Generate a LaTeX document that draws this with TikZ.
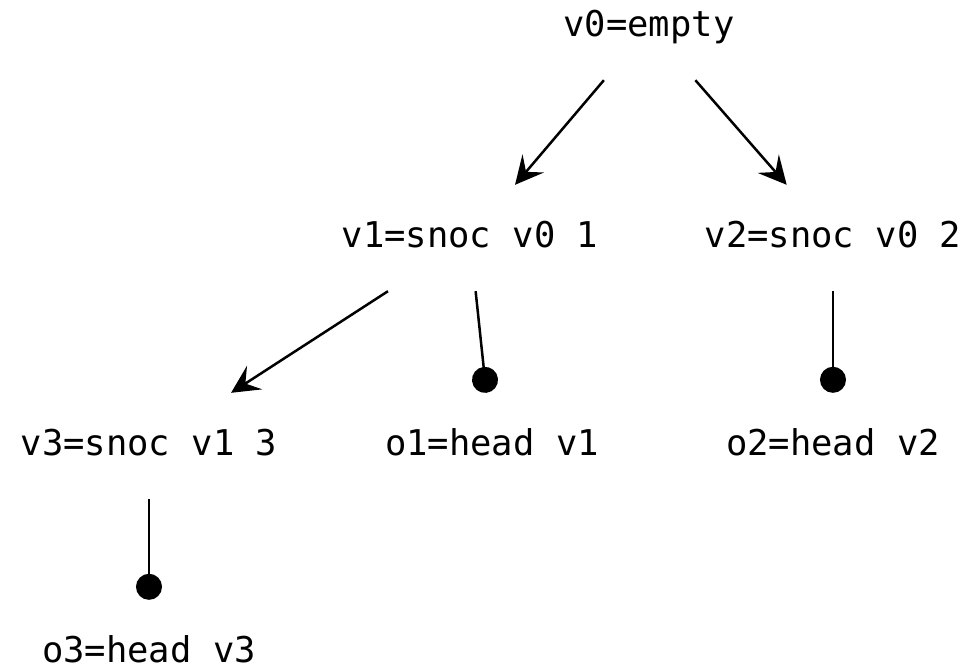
\documentclass[tikz,border=0pt]{standalone}
\usepackage{fontspec}
\setmonofont{DejaVu Sans Mono}
\usetikzlibrary{arrows.meta}
\begin{document}
\begin{tikzpicture}[x=1pt,y=-1pt,
  lbl/.style={font=\ttfamily\fontsize{35.5}{40}\selectfont, text height=26pt, text depth=8pt,
    inner xsep=0pt, inner ysep=36pt},
  edgeline/.style={line width=2.5pt, black},
  arr/.style={edgeline, -{Stealth[length=28pt, width=28pt, inset=11pt]}},
  dotend/.style={edgeline, -{Circle[length=26pt]}}]
\useasboundingbox (0,0) rectangle (978,670);
\node[lbl] (v0) at (649,27) {v0=empty};
\node[lbl] (v1) at (470,238) {v1=snoc v0 1};
\node[lbl] (v2) at (833,238) {v2=snoc v0 2};
\node[lbl] (v3) at (149,446) {v3=snoc v1 3};
\node[lbl] (o1) at (492,446) {o1=head v1};
\node[lbl] (o2) at (833,446) {o2=head v2};
\node[lbl] (o3) at (149,653) {o3=head v3};
\draw[arr] (v0) -- (v1);
\draw[arr] (v0) -- (v2);
\draw[arr] (v1) -- (v3);
\draw[dotend] (v1) -- (o1);
\draw[dotend] (v2) -- (o2);
\draw[dotend] (v3) -- (o3);
\end{tikzpicture}
\end{document}
